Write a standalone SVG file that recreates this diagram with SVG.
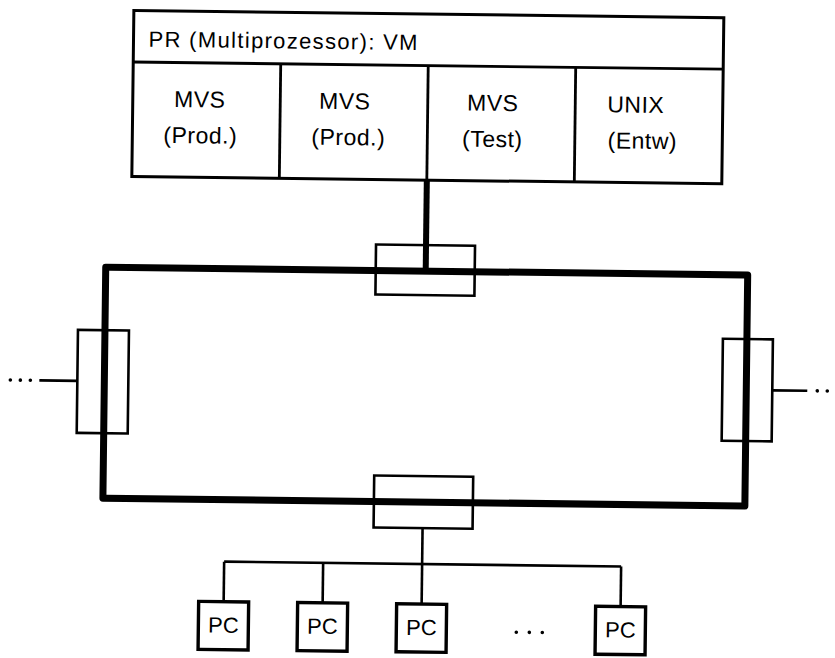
<svg xmlns="http://www.w3.org/2000/svg" width="835" height="658" viewBox="0 0 835 658">
<style>
text{font-family:"Liberation Sans",Arial,sans-serif;fill:#000}
.lbl{font-size:23px;text-anchor:middle;letter-spacing:0.5px}
.hdr{font-size:22px;letter-spacing:1px}
.pct{font-size:22px;text-anchor:middle}
.frame{fill:#fff;stroke:#000;stroke-width:3}
.div{stroke:#000;stroke-width:2.8}
.cbox{fill:none;stroke:#000;stroke-width:2.6}
.thick{fill:none;stroke:#000;stroke-width:7;stroke-linejoin:round}
.vthick{fill:none;stroke:#000;stroke-width:6}
.thin{fill:none;stroke:#000;stroke-width:2.6}
.pc{fill:#fff;stroke:#000;stroke-width:3.4}
.dot{fill:#000}
</style>
<rect width="835" height="658" fill="#fff"/>
<g transform="rotate(0.7 417 329)">
  <g id="connectors">
    <rect class="thick" x="105" y="271" width="642" height="231"/>
    <line class="vthick" x1="425" y1="180" x2="425" y2="271"/>
    <line class="thin" x1="40" y1="385" x2="78" y2="385"/>
    <line class="thin" x1="773" y1="386" x2="808" y2="386"/>
    <line class="thin" x1="425" y1="528" x2="425" y2="564"/>
    <line class="thin" x1="227" y1="564" x2="624" y2="564"/>
    <line class="thin" x1="227" y1="564" x2="227" y2="604"/>
    <line class="thin" x1="326" y1="564" x2="326" y2="604"/>
    <line class="thin" x1="425" y1="564" x2="425" y2="604"/>
    <line class="thin" x1="624" y1="564" x2="624" y2="604"/>
    <circle class="dot" cx="11" cy="385" r="1.8"/>
    <circle class="dot" cx="21" cy="385" r="1.8"/>
    <circle class="dot" cx="31" cy="385" r="1.8"/>
    <circle class="dot" cx="818" cy="386" r="1.8"/>
    <circle class="dot" cx="828" cy="386" r="1.8"/>
  </g>
  <g id="host">
    <rect class="frame" x="130" y="14" width="590" height="166"/>
    <line class="div" x1="130" y1="65.5" x2="720" y2="65.5"/>
    <line class="div" x1="277.5" y1="65.5" x2="277.5" y2="180"/>
    <line class="div" x1="425" y1="65.5" x2="425" y2="180"/>
    <line class="div" x1="572.5" y1="65.5" x2="572.5" y2="180"/>
    <text class="hdr" x="145" y="50" textLength="270" lengthAdjust="spacing">PR (Multiprozessor): VM</text>
    <text class="lbl" x="197" y="110">MVS</text>
    <text class="lbl" x="198" y="146">(Prod.)</text>
    <text class="lbl" x="342" y="110">MVS</text>
    <text class="lbl" x="346" y="146">(Prod.)</text>
    <text class="lbl" x="490" y="110">MVS</text>
    <text class="lbl" x="490" y="146">(Test)</text>
    <text class="lbl" x="633" y="110">UNIX</text>
    <text class="lbl" x="640" y="146">(Entw)</text>
  </g>
  <g id="coupler-top"><rect class="cbox" x="375" y="245" width="99" height="50"/></g>
  <g id="coupler-left"><rect class="cbox" x="78" y="334" width="51" height="103"/></g>
  <g id="coupler-right"><rect class="cbox" x="723" y="335" width="50" height="102"/></g>
  <g id="coupler-bottom"><rect class="cbox" x="376" y="476" width="99" height="52"/></g>
  <g id="pc1"><rect class="pc" x="202" y="604" width="50" height="48"/><text class="pct" x="227" y="635">PC</text></g>
  <g id="pc2"><rect class="pc" x="301" y="604" width="50" height="48"/><text class="pct" x="326" y="635">PC</text></g>
  <g id="pc3"><rect class="pc" x="400" y="604" width="50" height="48"/><text class="pct" x="425" y="635">PC</text></g>
  <g id="pc-ellipsis">
    <circle class="dot" cx="520" cy="631" r="1.8"/>
    <circle class="dot" cx="533" cy="631" r="1.8"/>
    <circle class="dot" cx="546" cy="631" r="1.8"/>
  </g>
  <g id="pc4"><rect class="pc" x="599" y="604" width="50" height="48"/><text class="pct" x="624" y="635">PC</text></g>
</g>
</svg>
